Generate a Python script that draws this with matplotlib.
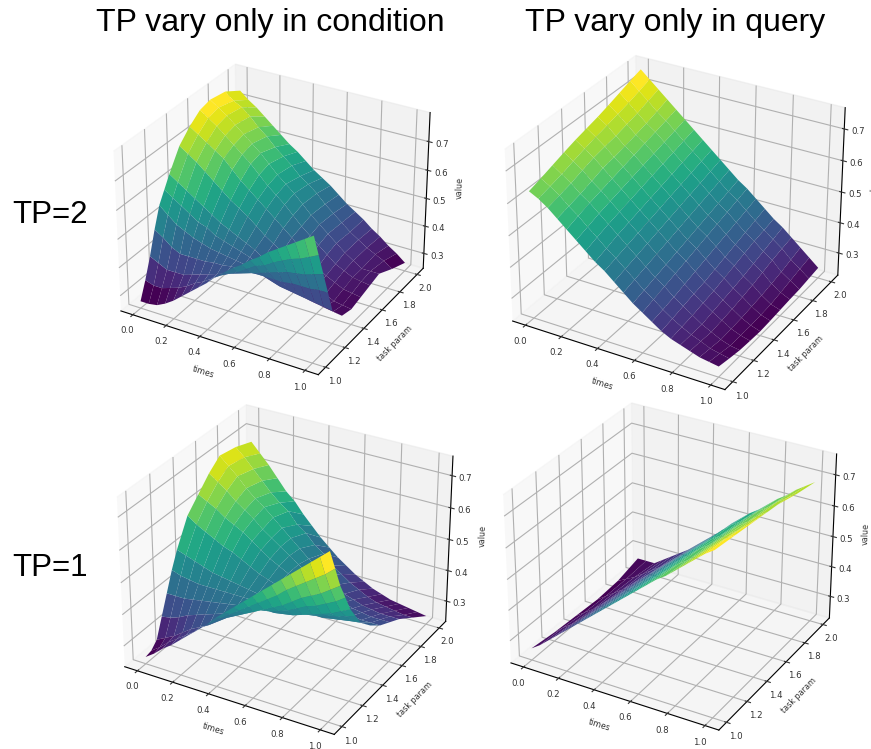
import numpy as np
import matplotlib
matplotlib.use("Agg")
import matplotlib.pyplot as plt

times = [0.0, 0.05, 0.1, 0.15, 0.2, 0.25, 0.3, 0.35, 0.4, 0.45, 0.5,
         0.55, 0.6, 0.65, 0.7, 0.75, 0.8, 0.85, 0.9, 0.95, 1.0]
param_condition = [1.0, 1.05, 1.1, 1.15, 1.2, 1.25, 1.3, 1.4, 1.5, 1.6, 1.7, 1.85, 2.0]
param_query_fine = [1.0, 1.1, 1.2, 1.3, 1.4, 1.5, 1.6, 1.7, 1.8, 1.9, 2.0]
param_query = [1.0, 1.2, 1.4, 1.6, 1.8, 2.0]

# each row: one time; each column: one task param
tp2_condition = [
    [.27, .33, .40, .48, .55, .59, .63, .70, .74, .77, .78, .77, .735],
    [.27, .32, .385, .46, .525, .57, .61, .68, .72, .75, .76, .745, .71],
    [.275, .32, .37, .435, .50, .55, .59, .66, .70, .73, .74, .73, .69],
    [.29, .33, .37, .42, .485, .53, .57, .635, .68, .705, .715, .705, .665],
    [.31, .34, .37, .42, .47, .51, .55, .61, .66, .68, .69, .675, .64],
    [.335, .355, .38, .42, .46, .50, .53, .585, .63, .655, .665, .65, .615],
    [.36, .375, .39, .42, .45, .48, .51, .56, .60, .63, .64, .62, .59],
    [.385, .39, .40, .425, .445, .47, .495, .54, .575, .60, .61, .595, .57],
    [.41, .41, .41, .425, .44, .46, .48, .52, .55, .57, .58, .57, .545],
    [.44, .43, .42, .43, .435, .45, .465, .495, .525, .545, .555, .54, .52],
    [.465, .445, .43, .43, .43, .44, .45, .47, .50, .52, .53, .52, .50],
    [.49, .46, .44, .43, .42, .425, .43, .45, .475, .49, .50, .495, .48],
    [.51, .48, .45, .43, .41, .41, .41, .43, .45, .46, .47, .465, .455],
    [.535, .50, .46, .43, .40, .395, .39, .405, .42, .435, .445, .44, .43],
    [.555, .51, .47, .43, .39, .38, .37, .38, .39, .41, .42, .415, .41],
    [.58, .53, .48, .43, .385, .37, .355, .36, .37, .385, .395, .39, .39],
    [.60, .545, .49, .435, .38, .36, .34, .34, .35, .36, .37, .37, .365],
    [.62, .56, .495, .435, .375, .35, .33, .325, .335, .345, .35, .35, .345],
    [.64, .57, .50, .435, .37, .345, .32, .31, .32, .33, .33, .335, .32],
    [.66, .585, .51, .44, .365, .34, .315, .305, .315, .325, .33, .32, .30],
    [.68, .60, .52, .44, .36, .335, .31, .30, .31, .32, .33, .30, .275],
]
tp1_condition = [
    [.255, .26, .28, .34, .40, .46, .51, .59, .63, .67, .70, .69, .67],
    [.275, .28, .295, .345, .40, .45, .50, .57, .615, .65, .675, .665, .64],
    [.30, .305, .31, .355, .40, .445, .49, .555, .60, .63, .65, .635, .61],
    [.32, .325, .33, .37, .405, .44, .48, .54, .58, .605, .62, .605, .575],
    [.345, .345, .35, .38, .41, .44, .47, .525, .565, .585, .595, .575, .54],
    [.37, .365, .365, .39, .415, .44, .465, .515, .55, .565, .575, .55, .515],
    [.395, .39, .38, .40, .42, .44, .46, .50, .53, .54, .55, .53, .48],
    [.42, .41, .40, .41, .425, .44, .455, .485, .51, .52, .525, .495, .45],
    [.45, .435, .42, .425, .43, .44, .45, .47, .49, .50, .50, .475, .42],
    [.475, .455, .435, .435, .435, .44, .445, .46, .475, .48, .475, .445, .395],
    [.50, .475, .45, .445, .44, .44, .44, .45, .46, .46, .45, .425, .37],
    [.525, .495, .465, .455, .44, .44, .435, .44, .445, .44, .43, .395, .35],
    [.55, .515, .48, .46, .44, .435, .43, .43, .43, .42, .41, .375, .33],
    [.575, .535, .495, .47, .445, .44, .43, .425, .42, .405, .39, .355, .315],
    [.60, .555, .51, .48, .45, .44, .43, .42, .41, .39, .37, .34, .30],
    [.625, .58, .53, .495, .46, .445, .43, .415, .40, .38, .36, .325, .29],
    [.65, .60, .55, .51, .47, .45, .43, .41, .39, .37, .35, .315, .28],
    [.675, .62, .565, .52, .48, .46, .435, .41, .385, .365, .345, .31, .275],
    [.70, .64, .58, .535, .49, .465, .44, .41, .38, .36, .34, .305, .27],
    [.725, .66, .60, .55, .505, .475, .445, .41, .38, .36, .34, .30, .265],
    [.75, .685, .62, .57, .52, .485, .45, .41, .38, .36, .34, .30, .26],
]
tp2_query = [
    [.63, .642, .655, .668, .68, .69, .70, .712, .725, .738, .75],
    [.615, .625, .635, .648, .66, .67, .68, .69, .70, .712, .725],
    [.595, .605, .615, .628, .64, .648, .655, .665, .675, .688, .70],
    [.57, .58, .59, .602, .615, .622, .63, .64, .65, .662, .675],
    [.545, .558, .57, .58, .59, .60, .61, .62, .63, .64, .65],
    [.52, .532, .545, .555, .565, .575, .585, .595, .605, .615, .625],
    [.495, .508, .52, .53, .54, .55, .56, .57, .58, .59, .60],
    [.47, .482, .495, .505, .515, .525, .535, .545, .555, .565, .575],
    [.45, .46, .47, .48, .49, .50, .51, .52, .53, .54, .55],
    [.425, .435, .445, .455, .465, .475, .485, .495, .505, .515, .525],
    [.40, .41, .42, .43, .44, .45, .46, .47, .48, .49, .50],
    [.375, .385, .395, .405, .415, .425, .435, .445, .455, .465, .475],
    [.355, .365, .375, .385, .395, .405, .415, .425, .435, .445, .455],
    [.335, .342, .35, .36, .37, .38, .39, .40, .41, .42, .43],
    [.315, .322, .33, .338, .345, .355, .365, .375, .385, .395, .405],
    [.30, .305, .31, .318, .325, .335, .345, .355, .365, .372, .38],
    [.29, .29, .29, .298, .305, .312, .32, .33, .34, .35, .36],
    [.28, .278, .275, .28, .285, .292, .30, .31, .32, .328, .335],
    [.27, .265, .26, .262, .265, .27, .275, .282, .29, .30, .31],
    [.265, .258, .25, .25, .25, .252, .255, .262, .27, .278, .285],
    [.26, .252, .245, .242, .24, .242, .245, .248, .25, .255, .26],
]
tp1_query = [
    [.265, .255, .25, .245, .25, .27],
    [.285, .28, .27, .265, .265, .27],
    [.31, .30, .29, .285, .28, .27],
    [.335, .325, .315, .305, .30, .29],
    [.36, .35, .34, .33, .32, .31],
    [.385, .375, .365, .355, .34, .33],
    [.41, .40, .39, .38, .365, .35],
    [.435, .425, .415, .405, .39, .375],
    [.46, .45, .44, .43, .415, .40],
    [.485, .475, .465, .455, .44, .425],
    [.51, .50, .49, .48, .465, .45],
    [.535, .525, .515, .505, .49, .48],
    [.56, .55, .54, .53, .52, .505],
    [.585, .575, .565, .555, .545, .53],
    [.61, .60, .59, .575, .565, .55],
    [.63, .62, .61, .60, .59, .575],
    [.655, .645, .635, .625, .615, .60],
    [.68, .67, .66, .645, .635, .62],
    [.705, .695, .68, .67, .66, .645],
    [.73, .72, .705, .69, .68, .665],
    [.75, .74, .73, .72, .70, .685],
]

time_ticks = [0.0, 0.2, 0.4, 0.6, 0.8, 1.0]
param_ticks = [1.0, 1.2, 1.4, 1.6, 1.8, 2.0]
value_ticks = [0.3, 0.4, 0.5, 0.6, 0.7]

column_titles = ["TP vary only in condition", "TP vary only in query"]
row_titles = ["TP=2", "TP=1"]

W, H = 871, 749
fig = plt.figure(figsize=(W / 100, H / 100), dpi=100)


def add_panel(cx, cy, side, params, values, zlim):
    x0, y1 = cx - side / 2, cy + side / 2
    ax = fig.add_axes([x0 / W, 1 - y1 / H, side / W, side / H], projection="3d")
    ax.patch.set_alpha(0)
    T, P = np.meshgrid(times, params, indexing="ij")
    ax.plot_surface(T, P, np.array(values), cmap="viridis",
                    rstride=1, cstride=1, linewidth=0, antialiased=True)
    ax.set_zlim(*zlim)
    ax.set_xticks(time_ticks)
    ax.set_yticks(param_ticks)
    ax.set_zticks(value_ticks)
    ax.view_init(elev=29.5, azim=-60)
    ax.set_box_aspect((4, 4, 3.2))
    ax.tick_params(labelsize=6.2, pad=-2, colors="#333333")
    ax.set_xlabel("times", fontsize=5.8, labelpad=-6, color="#333333")
    ax.set_ylabel("task param", fontsize=5.8, labelpad=-6, color="#333333")
    ax.set_zlabel("value", fontsize=5.8, labelpad=-6, color="#333333")
    return ax


add_panel(270, 217, 357, param_condition, tp2_condition, (.245, .80))
add_panel(673, 220, 384, param_query_fine, tp2_query, (.226, .766))
add_panel(283, 567, 379, param_condition, tp1_condition, (.233, .76))
add_panel(668, 564, 376, param_query, tp1_query, (.226, .766))

fig.text(96 / W, 1 - 23 / H, column_titles[0], ha="left", va="center",
         family="Liberation Sans", fontsize=23)
fig.text(525 / W, 1 - 23 / H, column_titles[1], ha="left", va="center",
         family="Liberation Sans", fontsize=23)
fig.text(12 / W, 1 - 215 / H, row_titles[0], ha="left", va="center",
         family="Liberation Sans", fontsize=22.5)
fig.text(12 / W, 1 - 568 / H, row_titles[1], ha="left", va="center",
         family="Liberation Sans", fontsize=22.5)

fig.savefig("out.png", dpi=100)
